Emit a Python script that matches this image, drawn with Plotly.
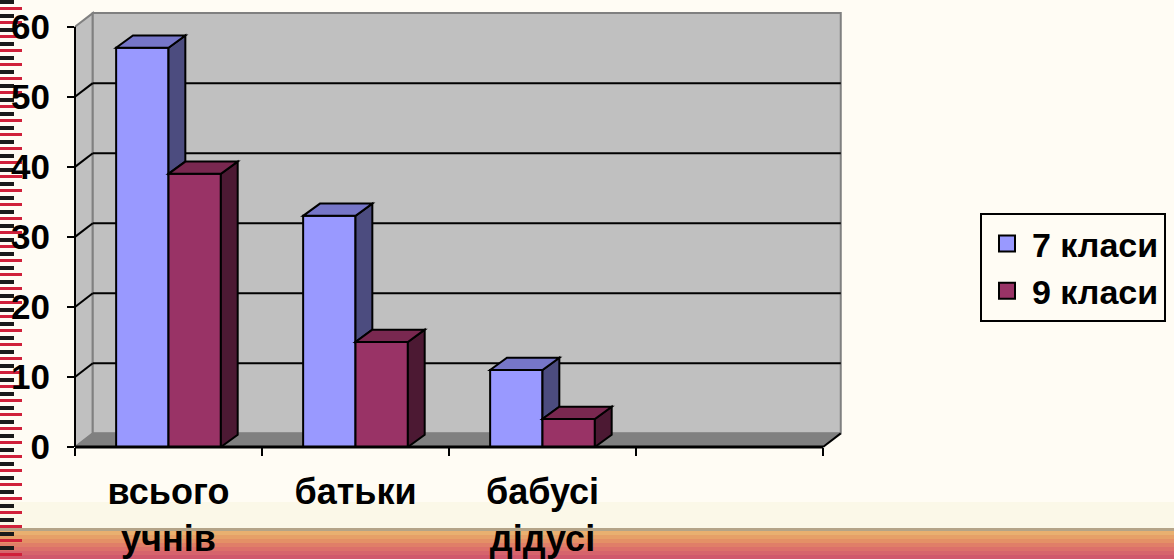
import plotly.graph_objects as go

# ---------------- data ----------------
categories = ["всього<br>учнів", "батьки", "бабусі<br>дідусі", " "]
series_names = ["7 класи", "9 класи"]
values_7 = [57, 33, 11, None]
values_9 = [39, 15, 4, None]
y_ticks = [0, 10, 20, 30, 40, 50, 60]

# ---------------- style ----------------
FRONT = ["#9999FF", "#993366"]
TOP = ["#7676C8", "#792850"]
SIDE = ["#4C4C7F", "#4C1933"]
FONT = "Arial, Liberation Sans, sans-serif"

W, H = 1174, 559
ML, MR, MT, MB = 75, 331, 11, 112
PW, PH = W - ML - MR, H - MT - MB

DX, DY = 0.095, 1.95          # wall depth (axis units)
BDX, BDY = 0.09, 1.75         # bar depth
BARGAP = 0.44
BW = (1 - BARGAP) / 2         # single bar width in category units
X0, X1 = -0.5, 3.5 + DX + 0.012
Y0, Y1 = 0, 60 + DY + 0.3


def px(x):
    return (x - X0) / (X1 - X0)


def py(y):
    return (y - Y0) / (Y1 - Y0)


def ppx(p):  # pixel -> paper
    return (p - ML) / PW


def ppy(p):
    return (H - MB - p) / PH


def poly(pts):
    return "M" + " L".join(f"{a},{b}" for a, b in pts) + " Z"


shapes = []

# ---------- page decoration ----------
shapes.append(dict(type="rect", xref="paper", yref="paper", layer="below",
                   x0=ppx(0), x1=ppx(W), y0=ppy(528), y1=ppy(502),
                   fillcolor="#FBF8E8", line_width=0))
band = ["#B4A488", "#E9B070", "#E6A068", "#E49066", "#E07E68", "#DC706A", "#D6646C", "#D0586C"]
bh = [3, 4, 4, 4, 4, 4, 4, 5]
yy = 528
for c, h in zip(band, bh):
    shapes.append(dict(type="rect", xref="paper", yref="paper", layer="below",
                       x0=ppx(0), x1=ppx(W), y0=ppy(yy + h), y1=ppy(yy),
                       fillcolor=c, line_width=0))
    yy += h
for k in range(0, H, 14):
    shapes.append(dict(type="rect", xref="paper", yref="paper", layer="below",
                       x0=ppx(0), x1=ppx(14), y0=ppy(k + 4), y1=ppy(k),
                       fillcolor="#1A1A1A", line_width=0))
    shapes.append(dict(type="rect", xref="paper", yref="paper", layer="below",
                       x0=ppx(0), x1=ppx(22), y0=ppy(k + 10), y1=ppy(k + 7),
                       fillcolor="#D0203A", line_width=0))

# ---------- walls & floor ----------
xl, xr = -0.5, 3.5
shapes.append(dict(type="path", xref="x", yref="y", layer="below",
                   path=poly([(xl, 0), (xl, 60), (xl + DX, 60 + DY), (xl + DX, DY)]),
                   fillcolor="#C0C0C0", line=dict(color="#808080", width=2)))
shapes.append(dict(type="path", xref="x", yref="y", layer="below",
                   path=poly([(xl + DX, DY), (xl + DX, 60 + DY), (xr + DX, 60 + DY), (xr + DX, DY)]),
                   fillcolor="#C0C0C0", line=dict(color="#808080", width=2)))
shapes.append(dict(type="path", xref="x", yref="y", layer="below",
                   path=poly([(xl, 0), (xr, 0), (xr + DX, DY), (xl + DX, DY)]),
                   fillcolor="#808080", line=dict(color="#808080", width=1)))
for v in y_ticks[1:-1]:
    shapes.append(dict(type="line", xref="x", yref="y", layer="below",
                       x0=xl + DX, x1=xr + DX, y0=v + DY, y1=v + DY,
                       line=dict(color="black", width=2)))
    shapes.append(dict(type="line", xref="x", yref="y", layer="below",
                       x0=xl, x1=xl + DX, y0=v, y1=v + DY,
                       line=dict(color="black", width=2)))

# front axis lines (paper, unclipped)
shapes.append(dict(type="line", xref="paper", yref="paper", layer="above",
                   x0=px(xl), x1=px(xl), y0=py(0), y1=py(60),
                   line=dict(color="black", width=2)))
shapes.append(dict(type="line", xref="paper", yref="paper", layer="above",
                   x0=px(xl), x1=px(xr), y0=py(0), y1=py(0),
                   line=dict(color="black", width=3)))
shapes.append(dict(type="line", xref="paper", yref="paper", layer="above",
                   x0=px(xr), x1=px(xr + DX), y0=py(0), y1=py(DY),
                   line=dict(color="black", width=2)))

# ---------- 3D faces of bars ----------
all_vals = [values_7, values_9]
for i in range(len(categories)):
    for s in range(2):
        v = all_vals[s][i]
        if v is None:
            continue
        left = i - BW + s * BW
        right = left + BW
        low = 0
        if s == 0:
            other = all_vals[1][i]
            if other is not None:
                low = other
        if low < v:
            shapes.append(dict(type="path", xref="x", yref="y", layer="above",
                               path=poly([(right, low), (right, v), (right + BDX, v + BDY),
                                          (right + BDX, low + BDY)]),
                               fillcolor=SIDE[s], line=dict(color="black", width=2)))
        shapes.append(dict(type="path", xref="x", yref="y", layer="above",
                           path=poly([(left, v), (right, v), (right + BDX, v + BDY),
                                      (left + BDX, v + BDY)]),
                           fillcolor=TOP[s], line=dict(color="black", width=2)))

fig = go.Figure()
for s, vals in enumerate(all_vals):
    fig.add_trace(go.Bar(x=categories, y=vals, name=series_names[s],
                         marker=dict(color=FRONT[s], line=dict(color="black", width=2)),
                         showlegend=False))
    fig.add_trace(go.Scatter(x=[None], y=[None], mode="markers", name=series_names[s],
                             marker=dict(symbol="square", size=16, color=FRONT[s],
                                         line=dict(color="black", width=2))))

fig.update_layout(
    width=W, height=H,
    margin=dict(l=ML, r=MR, t=MT, b=MB, autoexpand=False),
    paper_bgcolor="#FFFCF4", plot_bgcolor="rgba(0,0,0,0)",
    barmode="group", bargap=BARGAP, bargroupgap=0,
    shapes=shapes,
    font=dict(family=FONT, color="black", size=34, weight="bold"),
    legend=dict(x=ppx(980), xanchor="left", y=ppy(213), yanchor="top",
                bordercolor="black", borderwidth=2, bgcolor="rgba(0,0,0,0)",
                font=dict(size=34, family=FONT, weight="bold"),
                tracegroupgap=0, itemwidth=40),
)
fig.update_xaxes(type="category", categoryorder="array", categoryarray=categories,
                 range=[X0, X1], showgrid=False, zeroline=False, showline=False,
                 tickson="boundaries", ticks="outside", ticklen=8, tickwidth=2, tickcolor="black",
                 ticklabelstandoff=20,
                 tickfont=dict(size=36, family=FONT, weight="bold"))
fig.update_yaxes(range=[Y0, Y1], tickvals=y_ticks, showgrid=False, zeroline=False,
                 showline=False, ticks="outside", ticklen=7, tickwidth=2, tickcolor="black",
                 ticklabelstandoff=10,
                 tickfont=dict(size=35, family=FONT, weight="bold"))

fig.write_html("out.html", config={"displayModeBar": False},
               post_script="document.body.style.margin='0';document.body.style.overflow='hidden';")
